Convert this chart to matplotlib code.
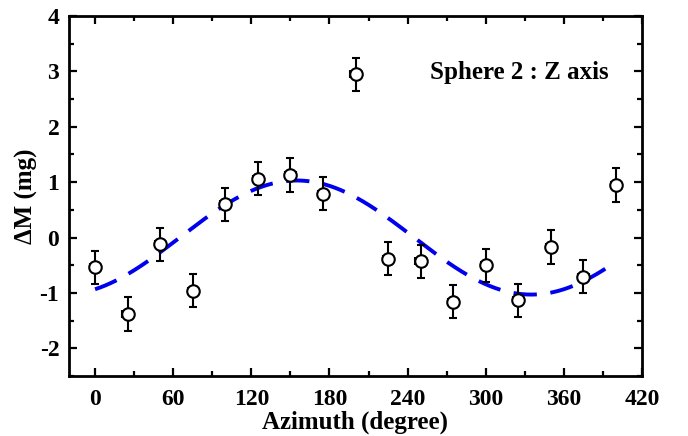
import numpy as np
import matplotlib
matplotlib.use("Agg")
import matplotlib.pyplot as plt
from matplotlib.ticker import MultipleLocator

plt.rcParams['font.family'] = ['Liberation Serif', 'DejaVu Serif']
plt.rcParams['font.weight'] = 'bold'
plt.rcParams['axes.unicode_minus'] = False

# Measured points
azimuth = [0, 25, 50, 75, 100, 125, 150, 175, 200, 225, 250, 275, 300, 325, 350, 375, 400]
delta_m = [-0.54, -1.38, -0.12, -0.96, 0.60, 1.06, 1.13, 0.79, 2.95,
           -0.38, -0.43, -1.16, -0.50, -1.13, -0.17, -0.71, 0.95]
y_err = [0.30] * len(azimuth)
x_err = [4] * len(azimuth)

# Sinusoidal fit parameters (period 360 deg)
fit_amp = 1.03
fit_peak = 155.0
fit_offset = 0.0
fit_range = (0, 400)

fig = plt.figure(figsize=(6.88, 4.36), dpi=100)
ax = fig.add_axes([69/688, 1 - 376/436, (642-69)/688, (376-16)/436])

fit_x = np.linspace(fit_range[0], fit_range[1], 400)
fit_y = fit_offset + fit_amp * np.cos(np.radians(fit_x - fit_peak))
ax.plot(fit_x, fit_y, color='#0000ee', lw=2.8, dashes=(6, 3.5), zorder=2)

ax.errorbar(azimuth, delta_m, yerr=y_err, xerr=x_err, fmt='o', ms=9,
            mfc='white', mec='black', mew=1.5, ecolor='black', elinewidth=1.5,
            capsize=3, capthick=1.5, zorder=3)

ax.set_xlim(-20, 420)
ax.set_ylim(-2.5, 4)
ax.xaxis.set_major_locator(MultipleLocator(60))
ax.xaxis.set_minor_locator(MultipleLocator(30))
ax.yaxis.set_major_locator(MultipleLocator(1))
ax.yaxis.set_minor_locator(MultipleLocator(0.5))
ax.tick_params(which='both', direction='in', top=True, right=True, width=1.6)
ax.tick_params(which='major', length=6, labelsize=17, pad=7)
ax.tick_params(axis='x', which='major', pad=9)
ax.tick_params(which='minor', length=3.5)
for s in ax.spines.values():
    s.set_linewidth(2)

ax.set_xlabel('Azimuth (degree)', fontsize=18, fontweight='bold', labelpad=1)
ax.set_ylabel('ΔM (mg)', fontsize=18, fontweight='bold', labelpad=1)
ax.text(0.942, 0.844, 'Sphere 2 : Z axis', transform=ax.transAxes, ha='right',
        va='center', fontsize=18, fontweight='bold')

fig.savefig('out.png', dpi=100)
